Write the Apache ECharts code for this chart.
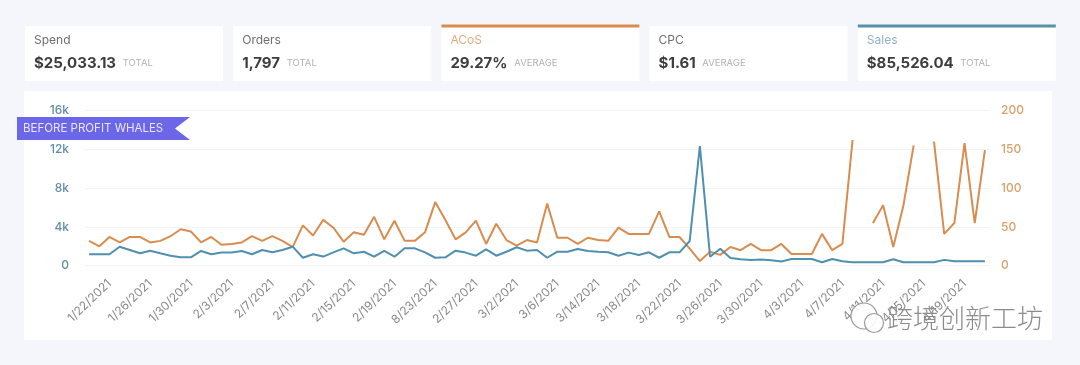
<!DOCTYPE html>
<html>
<head>
<meta charset="utf-8">
<script src="https://cdn.jsdelivr.net/npm/echarts@6/dist/echarts.min.js"></script>
<style>
html,body{margin:0;padding:0;background:#f4f6fb;}
#chart{width:1080px;height:365px;}
</style>
</head>
<body>
<div id="chart"></div>
<script>
const categories = [
 "1/20/2021","1/21/2021","1/22/2021","1/23/2021","1/24/2021","1/25/2021","1/26/2021","1/27/2021","1/28/2021","1/29/2021",
 "1/30/2021","1/31/2021","2/1/2021","2/2/2021","2/3/2021","2/4/2021","2/5/2021","2/6/2021","2/7/2021","2/8/2021",
 "2/9/2021","2/10/2021","2/11/2021","2/12/2021","2/13/2021","2/14/2021","2/15/2021","2/16/2021","2/17/2021","2/18/2021",
 "2/19/2021","2/20/2021","2/21/2021","2/22/2021","8/23/2021","2/24/2021","2/25/2021","2/26/2021","2/27/2021","2/28/2021",
 "3/1/2021","3/1/2021","3/2/2021","3/3/2021","3/4/2021","3/5/2021","3/6/2021","3/7/2021","3/8/2021","3/13/2021",
 "3/14/2021","3/15/2021","3/16/2021","3/17/2021","3/18/2021","3/19/2021","3/20/2021","3/21/2021","3/22/2021","3/23/2021",
 "3/24/2021","3/25/2021","3/26/2021","3/27/2021","3/28/2021","3/29/2021","3/30/2021","3/31/2021","4/1/2021","4/2/2021",
 "4/3/2021","4/4/2021","4/5/2021","4/6/2021","4/7/2021","4/8/2021","4/9/2021","4/10/2021","4/11/2021","4/12/2021",
 "4/13/2021","4/14/2021","4/15/2021","4/16/2021","4/17/2021","4/18/2021","4/19/2021","4/20/2021","4/21/2021"
];
const acos = [
 32,25,37,30,37,37,30,32,38,47,
 44,30,37,27,28,30,38,32,38,32,
 24,52,39,59,49,31,43,40,63,34,
 58,32,32,43,82,59,34,43,58,28,
 54,33,26,33,30,80,36,36,28,36,
 33,32,49,41,41,41,70,37,37,22,
 6,18,14,24,20,28,20,20,28,15,
 15,15,41,20,28,162,null,55,78,24,
 78,155,null,160,41,55,158,55,149
];
const sales = [
 1180,1180,1180,1960,1620,1280,1550,1280,1030,860,
 860,1520,1180,1350,1350,1520,1180,1620,1380,1620,
 1960,820,1180,940,1380,1790,1280,1440,930,1520,
 930,1790,1790,1380,820,860,1550,1350,1030,1690,
 1030,1440,1900,1550,1620,820,1440,1440,1720,1520,
 1440,1380,1030,1350,1100,1380,820,1380,1380,2550,
 12340,930,1750,790,660,580,640,560,430,690,
 690,690,350,690,450,350,350,350,350,660,
 350,350,350,350,600,450,450,450,450
];
const leftTicks = ["0","4k","8k","12k","16k"];
const rightTicks = ["0","50","100","150","200"];
const cardLabels = ["Spend","Orders","ACoS","CPC","Sales"];
const cardValues = ["$25,033.13","1,797","29.27%","$1.61","$85,526.04"];
const cardUnits = ["TOTAL","TOTAL","AVERAGE","AVERAGE","TOTAL"];
const bannerText = "BEFORE PROFIT WHALES";
const watermarkText = "跨境创新工坊";

const ORANGE = "#d88d4f";
const BLUE = "#4f8fb0";
const FONT = "Inter, 'Noto Sans', sans-serif";

const chart = echarts.init(document.getElementById('chart'));

const graphics = [];
// chart panel
graphics.push({type:'rect', z:-10, shape:{x:24,y:91,width:1028,height:249}, style:{fill:'#ffffff'}});
// cards
const cardLabelColors = ['#6f6f6f','#6f6f6f','#e2aa7c','#6f6f6f','#8fb3c9'];
const cardTopColors = [null,null,'#d98c4c',null,'#5790a8'];
for (let i = 0; i < cardLabels.length; i++) {
  const x = 25 + i * 208.2;
  graphics.push({type:'rect', z:-10, shape:{x:x,y:26,width:198,height:55}, style:{fill:'#ffffff'}});
  if (cardTopColors[i]) {
    graphics.push({type:'rect', z:-9, shape:{x:x,y:24.5,width:198,height:3}, style:{fill:cardTopColors[i]}});
  }
  graphics.push({type:'text', z:5, x:x+9, y:40, style:{text:cardLabels[i], fill:cardLabelColors[i], font:"400 12px " + FONT, textVerticalAlign:'middle'}});
  graphics.push({type:'text', z:5, x:x+9, y:63, style:{
    text:'{v|' + cardValues[i] + '}  {u|' + cardUnits[i] + '}',
    textVerticalAlign:'middle',
    rich:{
      v:{font:"700 15px " + FONT, fill:'#3d3d3d'},
      u:{font:"400 9.5px " + FONT, fill:'#b2b2b2'}
    }
  }});
}
// banner
graphics.push({type:'polygon', z:20, shape:{points:[[17,117],[190,117],[175,128.5],[190,140],[17,140]]}, style:{fill:'#6c66e8'}});
graphics.push({type:'text', z:21, x:23, y:129, style:{text:bannerText, fill:'#e9e7ff', font:"400 11.5px " + FONT, textVerticalAlign:'middle'}});
// watermark
graphics.push({type:'circle', z:30, shape:{cx:864,cy:316,r:13}, style:{fill:'rgba(255,255,255,0.85)', stroke:'#9a9a9a', lineWidth:1.2}});
graphics.push({type:'circle', z:31, shape:{cx:874,cy:323,r:9.5}, style:{fill:'rgba(255,255,255,0.9)', stroke:'#9a9a9a', lineWidth:1.2}});
graphics.push({type:'text', z:32, x:887, y:318, style:{text:watermarkText, fill:'#8c8c8c', font:"300 26px 'Noto Sans CJK SC', sans-serif", textVerticalAlign:'middle'}});

chart.setOption({
  backgroundColor:'#f4f6fb',
  animation:false,
  graphic: graphics,
  grid:{left:84, right:90, top:110.5, bottom:99.3, containLabel:false},
  xAxis:{
    type:'category',
    data:categories,
    boundaryGap:true,
    axisLine:{show:false},
    axisTick:{show:false},
    axisLabel:{
      rotate:44,
      margin:16,
      color:'#8a8a8a',
      fontSize:12,
      fontFamily:FONT,
      interval:function(index){ return index >= 2 && (index - 2) % 4 === 0; }
    },
    splitLine:{show:false}
  },
  yAxis:[
    {
      type:'value', min:0, max:16000, interval:4000, position:'left',
      axisLine:{show:false}, axisTick:{show:false},
      axisLabel:{margin:15, color:'#5f8daa', fontSize:12, fontWeight:500, fontFamily:FONT,
        formatter:function(v){ return leftTicks[Math.round(v/4000)]; }},
      splitLine:{lineStyle:{color:'#f1f3f6', width:1}}
    },
    {
      type:'value', min:0, max:200, interval:50, position:'right',
      axisLine:{show:false}, axisTick:{show:false},
      axisLabel:{margin:11, color:'#d9a06a', fontSize:12, fontWeight:500, fontFamily:FONT,
        formatter:function(v){ return rightTicks[Math.round(v/50)]; }},
      splitLine:{show:false}
    }
  ],
  series:[
    {name:'ACoS', type:'line', yAxisIndex:1, data:acos, symbol:'none', connectNulls:false,
      lineStyle:{color:ORANGE, width:2}, itemStyle:{color:ORANGE}},
    {name:'Sales', type:'line', yAxisIndex:0, data:sales, symbol:'none',
      lineStyle:{color:BLUE, width:2}, itemStyle:{color:BLUE}}
  ]
});
</script>
</body>
</html>
